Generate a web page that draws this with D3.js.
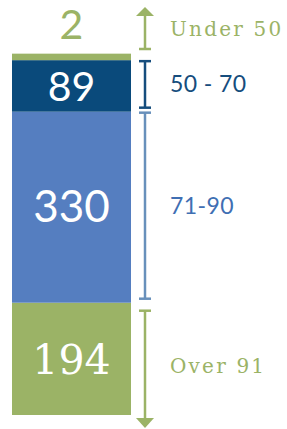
<!DOCTYPE html>
<html>
<head>
<meta charset="utf-8">
<script src="https://cdn.jsdelivr.net/npm/d3@7"></script>
<style>
  body { margin: 0; background: #fff; }
  svg { display: block; }
</style>
</head>
<body>
<svg width="287" height="429"></svg>
<script>
// data, bottom to top
var categories = ["Over 91", "71-90", "50 - 70", "Under 50"];
var counts = [194, 330, 89, 2];
var barColors = ["#9bb366", "#557ec0", "#0a4a7b", "#9bb366"];
var labelColors = ["#9bb366", "#3f6fb3", "#164d7d", "#9bb366"];
var bracketColors = ["#9bb366", "#6890bb", "#164d7d", "#9bb366"];

var svg = d3.select("svg");
var total = d3.sum(counts);

var y = d3.scaleLinear().domain([0, total]).range([415, 59]);
var x = d3.scaleBand().domain(["bar"]).range([12, 131]).padding(0);

// stack
var stack = [];
var acc = 0;
counts.forEach(function(v, i) {
  stack.push({ cat: categories[i], v: v, y0: acc, y1: acc + v, i: i });
  acc += v;
});

var minH = 6.5;
stack.forEach(function(d) {
  d.top = y(d.y1);
  d.bot = y(d.y0);
  if (d.bot - d.top < minH) d.top = d.bot - minH;
});

svg.append("g").selectAll("rect")
  .data(stack)
  .enter().append("rect")
  .attr("x", x("bar"))
  .attr("width", x.bandwidth())
  .attr("y", function(d) { return d.top; })
  .attr("height", function(d) { return d.bot - d.top; })
  .attr("fill", function(d) { return barColors[d.i]; });

// value labels
var cx = x("bar") + x.bandwidth() / 2;
svg.append("g").selectAll("text")
  .data(stack)
  .enter().append("text")
  .attr("x", cx)
  .attr("y", function(d) {
    if (d.i === 3) return d.top - 15;
    return (d.top + d.bot) / 2 + 15;
  })
  .attr("text-anchor", "middle")
  .attr("font-family", function(d) { return d.i === 0 ? "DejaVu Serif" : "Lato, sans-serif"; })
  .attr("font-size", function(d) { return d.i === 1 ? 44 : 41; })
  .attr("fill", function(d) { return d.i === 3 ? barColors[3] : "#fff"; })
  .text(function(d) { return d.v; });

// brackets
var bx = 145, cap = 6;
var br = svg.append("g");
stack.forEach(function(d) {
  var c = bracketColors[d.i];
  var t, b;
  if (d.i === 3) { t = 16; b = 49; }
  else if (d.i === 0) { t = d.top + 8; b = 419; }
  else { t = d.top + 1; b = d.bot - 4; }
  br.append("line").attr("x1", bx).attr("x2", bx).attr("y1", t).attr("y2", b)
    .attr("stroke", c).attr("stroke-width", 2.5);
  if (d.i !== 3) br.append("line").attr("x1", bx - cap).attr("x2", bx + cap).attr("y1", t).attr("y2", t)
    .attr("stroke", c).attr("stroke-width", 2.5);
  if (d.i !== 0) br.append("line").attr("x1", bx - cap).attr("x2", bx + cap).attr("y1", b).attr("y2", b)
    .attr("stroke", c).attr("stroke-width", 2.5);
  if (d.i === 3) br.append("path").attr("d", "M" + (bx - 9) + ",16L" + bx + ",7L" + (bx + 9) + ",16Z").attr("fill", c);
  if (d.i === 0) br.append("path").attr("d", "M" + (bx - 9) + ",418L" + bx + ",428L" + (bx + 9) + ",418Z").attr("fill", c);

  var ly = d.i === 3 ? 36 : (t + b) / 2 + 8;
  var serif = d.i === 0 || d.i === 3;
  br.append("text")
    .attr("x", 170)
    .attr("y", ly)
    .attr("font-family", serif ? "DejaVu Serif" : "Lato, sans-serif")
    .attr("font-size", serif ? 20 : 23)
    .attr("letter-spacing", serif ? 2.2 : 0.4)
    .attr("fill", labelColors[d.i])
    .text(d.cat);
});
</script>
</body>
</html>
